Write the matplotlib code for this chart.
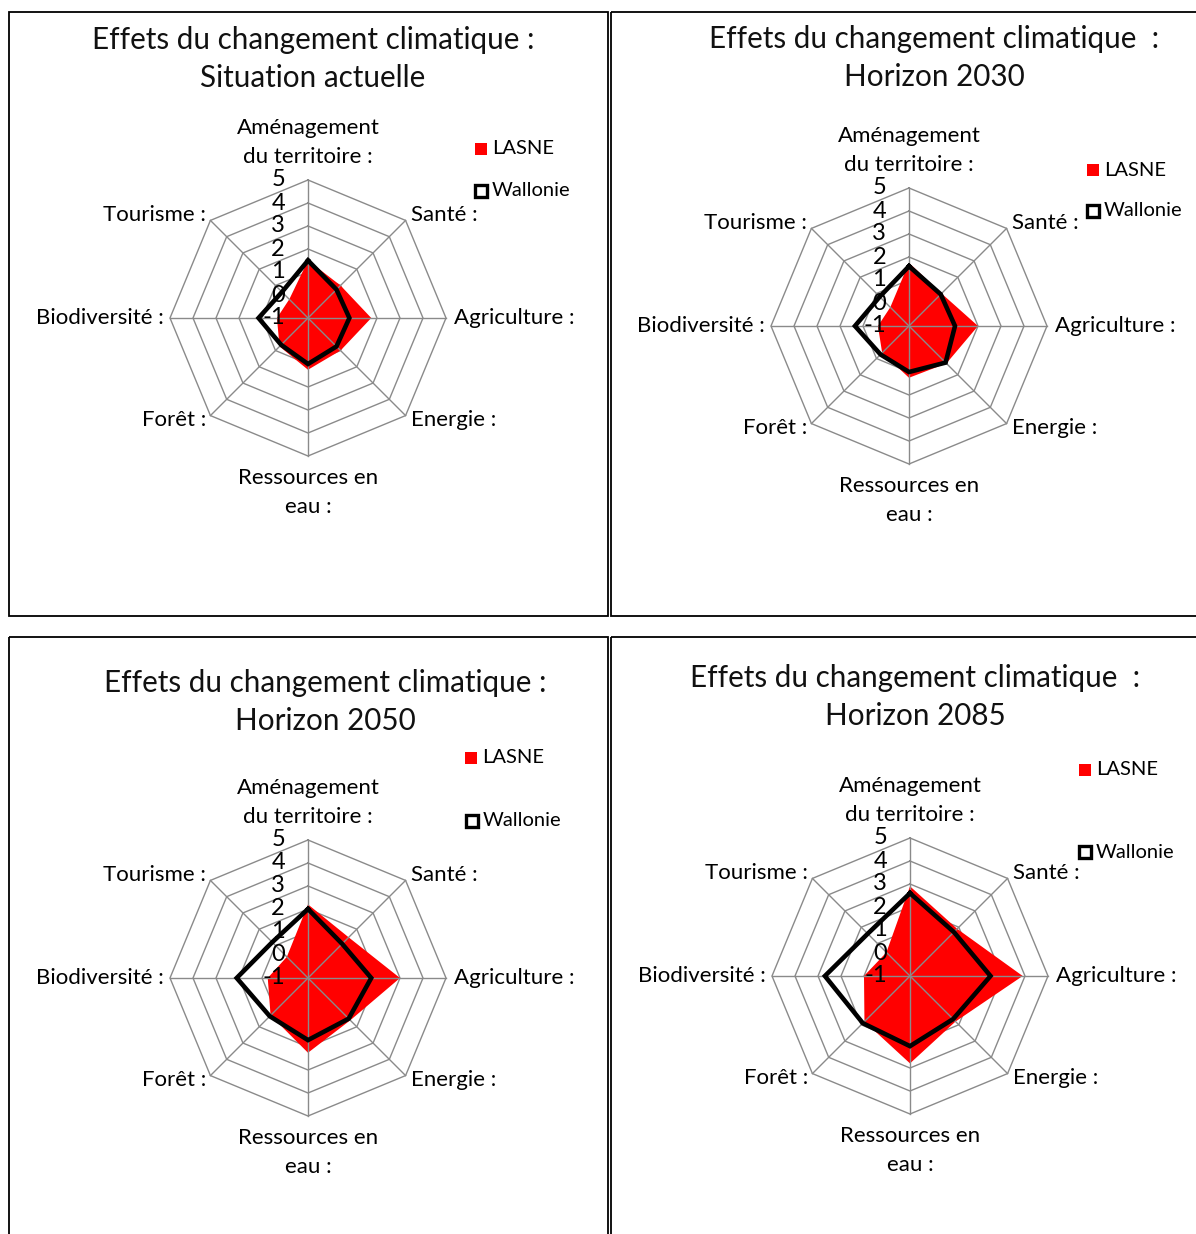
import numpy as np
import matplotlib
matplotlib.use("Agg")
import matplotlib.pyplot as plt
from matplotlib.patches import Rectangle

plt.rcParams['font.family'] = ['Lato', 'DejaVu Sans']

# ---------------- data ----------------
categories = ["Aménagement\ndu territoire :", "Santé :", "Agriculture :", "Energie :",
              "Ressources en\neau :", "Forêt :", "Biodiversité :", "Tourisme :"]
tick_values = [-1, 0, 1, 2, 3, 4, 5]
series_names = ["LASNE", "Wallonie"]

titles = ["Effets du changement climatique :\nSituation actuelle",
          "Effets du changement climatique  :\nHorizon 2030",
          "Effets du changement climatique :\nHorizon 2050",
          "Effets du changement climatique  :\nHorizon 2085"]

lasne_actuel = [1.5, 1.0, 1.75, 1.0, 1.25, 0.75, 0.35, 0.15]
wallonie_actuel = [1.5, 0.75, 0.8, 0.75, 1.0, 0.65, 1.15, 0.6]

lasne_2030 = [1.75, 1.0, 2.0, 1.3, 1.25, 0.65, 0.35, 0.15]
wallonie_2030 = [1.6, 0.95, 1.0, 1.25, 1.0, 0.75, 1.35, 0.8]

lasne_2050 = [2.2, 1.5, 3.0, 1.6, 2.25, 1.3, 0.75, 0.3]
wallonie_2050 = [2.0, 1.1, 1.75, 1.5, 1.7, 1.35, 2.1, 1.2]

lasne_2085 = [2.9, 1.9, 3.9, 1.8, 2.8, 1.8, 1.0, 0.45]
wallonie_2085 = [2.6, 1.7, 2.5, 1.65, 2.05, 1.9, 2.7, 1.6]

lasne_all = [lasne_actuel, lasne_2030, lasne_2050, lasne_2085]
wallonie_all = [wallonie_actuel, wallonie_2030, wallonie_2050, wallonie_2085]

# ---------------- layout (pixels) ----------------
W, H = 1196, 1234
UNIT = 23.0  # px per value unit
centers = [(308, 318), (909, 326), (308, 978), (910, 976)]
title_pos = [(313, 59), (934, 58), (325, 702), (915, 697)]
panels = [(9, 12, 599, 604), (611, 12, 620, 604), (9, 637, 599, 620), (611, 637, 620, 620)]
legend_pos = [((173, -169), (173, -127)), ((184, -156), (184, -115)),
              ((163, -220), (164, -157)), ((175, -206), (175, -124))]

fig = plt.figure(figsize=(W / 100, H / 100), dpi=100)
fig.patch.set_facecolor("white")

# background axes for panel borders
bg = fig.add_axes([0, 0, 1, 1])
bg.set_xlim(0, W)
bg.set_ylim(H, 0)
bg.axis("off")
for (x, y, w, h) in panels:
    bg.add_patch(Rectangle((x, y), w, h, fill=False, edgecolor="black", lw=1.3))

for (tx, ty), t in zip(title_pos, titles):
    fig.text(tx / W, 1 - ty / H, t, ha="center", va="center", fontsize=21.3,
             linespacing=1.43, multialignment="center", color="#111111")

n = len(categories)
theta = np.arange(n) * 2 * np.pi / n
rmax = tick_values[-1] - tick_values[0]
L = 300.0
lim = L / UNIT
label_fs = 16
grid_col = "#8a8a8a"

for i, (cx, cy) in enumerate(centers):
    ax = fig.add_axes([(cx - L) / W, 1 - (cy + L) / H, 2 * L / W, 2 * L / H])
    ax.set_xlim(-lim, lim)
    ax.set_ylim(-lim, lim)
    ax.axis("off")

    def xy(vals):
        r = np.asarray(vals, dtype=float) - tick_values[0]
        x = r * np.sin(theta)
        y = r * np.cos(theta)
        return np.append(x, x[0]), np.append(y, y[0])

    # grid rings (behind the area)
    for tv in tick_values[1:]:
        r = tv - tick_values[0]
        gx = np.append(r * np.sin(theta), 0)
        gy = np.append(r * np.cos(theta), r)
        ax.plot(gx, gy, color=grid_col, lw=1.0, zorder=0.5)

    # red LASNE area
    lx, ly = xy(lasne_all[i])
    ax.fill(lx, ly, color="#ff0000", lw=0, zorder=1)

    # spokes (in front of the area)
    for t in theta:
        ax.plot([0, rmax * np.sin(t)], [0, rmax * np.cos(t)], color=grid_col, lw=1.0, zorder=2)

    # Wallonie line
    wx, wy = xy(wallonie_all[i])
    ax.plot(wx, wy, color="black", lw=3.3, zorder=3, solid_joinstyle="miter")

    # tick labels
    for tv in tick_values:
        r = tv - tick_values[0]
        ax.text(-1.0, r, str(tv), ha="right", va="center", fontsize=17, zorder=4)

    # category labels
    off = [(0, 7.63, "center"), (4.48, 4.48, "left"), (6.35, 0, "left"), (4.48, -4.43, "left"),
           (0, -7.6, "center"), (-4.43, -4.43, "right"), (-6.26, 0, "right"), (-4.43, 4.48, "right")]
    for (ox, oy, ha), lab in zip(off, categories):
        ax.text(ox, oy, lab, ha=ha, va="center", fontsize=label_fs, linespacing=1.55,
                multialignment="center", zorder=4)

    # legend
    (p1x, p1y), (p2x, p2y) = legend_pos[i]
    ax.plot([p1x / UNIT], [-p1y / UNIT], marker="s", ms=8.5, mfc="#ff0000", mec="#ff0000", mew=0)
    ax.text((p1x + 11) / UNIT, -p1y / UNIT, series_names[0], ha="left", va="center", fontsize=14.5)
    ax.plot([p2x / UNIT], [-p2y / UNIT], marker="s", ms=8.0, mfc="white", mec="black", mew=2.4)
    ax.text((p2x + 11) / UNIT, -p2y / UNIT, series_names[1], ha="left", va="center", fontsize=14.5)

fig.savefig("out.png", dpi=100)
